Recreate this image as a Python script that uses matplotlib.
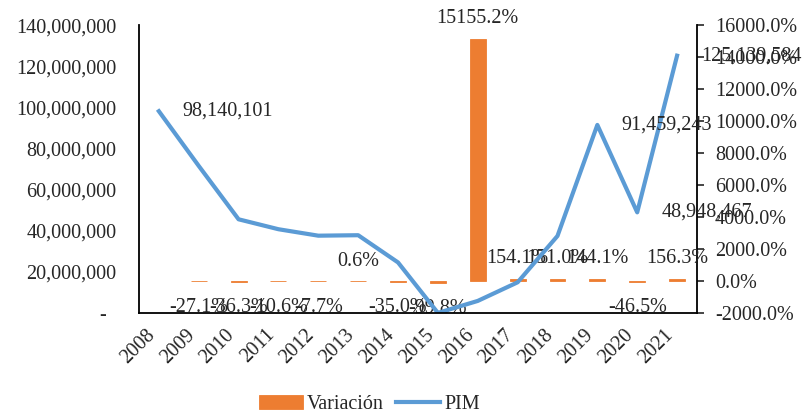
import numpy as np
import matplotlib.pyplot as plt
from matplotlib.ticker import FuncFormatter

plt.rcParams['font.family'] = ['Liberation Serif', 'DejaVu Serif']
plt.rcParams['text.color'] = '#262626'
plt.rcParams['xtick.color'] = '#262626'
plt.rcParams['ytick.color'] = '#262626'

# datos
years = ['2008', '2009', '2010', '2011', '2012', '2013', '2014',
         '2015', '2016', '2017', '2018', '2019', '2020', '2021']
pim = [98140101, 71544134, 45570000, 40740000, 37600000, 37830000, 24590000,
       38500, 5875000, 14930000, 37470000, 91459243, 48948467, 125139584]
variacion = [np.nan, -27.1, -36.3, -10.6, -7.7, 0.6, -35.0,
             -99.8, 15155.2, 154.1, 151.0, 144.1, -46.5, 156.3]
pim_con_etiqueta = ['2008', '2019', '2020', '2021']

orange = '#ED7D31'
blue = '#5B9BD5'
fs = 14.5

fig = plt.figure(figsize=(8.03, 4.16), dpi=100)
ax = fig.add_axes([0.173, 0.2476, 0.695, 0.692])
ax2 = ax.twinx()

x = np.arange(len(years))

# barras de variacion en el eje derecho
bars = ax2.bar(x, variacion, width=0.4, color=orange, edgecolor=orange,
               linewidth=0.6, label='Variación')
# linea PIM en el eje izquierdo
line, = ax.plot(x, pim, color=blue, lw=3, label='PIM')

# la linea va por encima de las barras
ax.set_zorder(ax2.get_zorder() + 1)
ax.patch.set_visible(False)

ax.set_xlim(-0.5, len(years) - 0.5)
ax.set_ylim(0, 140e6)
ax2.set_ylim(-2000, 16000)

ax.set_yticks(np.arange(0, 140e6 + 1, 20e6))
ax.yaxis.set_major_formatter(FuncFormatter(lambda v, p: '-  ' if v == 0 else f'{v:,.0f}'))
ax2.set_yticks(np.arange(-2000, 16001, 2000))
ax2.yaxis.set_major_formatter(FuncFormatter(lambda v, p: f'{v:.1f}%'))

ax.set_xticks(x)
ax.set_xticklabels(years, rotation=45, ha='right', fontsize=fs)
ax.tick_params(axis='x', length=0, pad=9)
ax.tick_params(axis='y', length=0, pad=16, labelsize=fs)
ax2.tick_params(axis='y', length=5, width=1.2, direction='out', pad=8, labelsize=fs)

for s in ['top', 'right']:
    ax.spines[s].set_visible(False)
for s in ['top', 'left', 'bottom']:
    ax2.spines[s].set_visible(False)
ax.spines['left'].set_linewidth(1.3)
ax.spines['bottom'].set_linewidth(1.3)
ax2.spines['right'].set_linewidth(1.3)

# etiquetas de la variacion
for i, v in enumerate(variacion):
    if np.isnan(v):
        continue
    dy = 20 if v >= 0 else -26
    ax2.annotate(f'{v:.1f}%', (x[i], v), xytext=(0, dy), textcoords='offset pixels',
                 ha='center', va='center', fontsize=fs)

# etiquetas del PIM
for i, yr in enumerate(years):
    if yr in pim_con_etiqueta:
        ax.annotate(f'{pim[i]:,.0f}', (x[i], pim[i]), xytext=(24, 0),
                    textcoords='offset pixels', ha='left', va='center', fontsize=fs)

fig.legend([bars, line], ['Variación', 'PIM'], loc='center',
           bbox_to_anchor=(0.46, 0.027), ncol=2, frameon=False, fontsize=fs,
           handlelength=2.2, handletextpad=0.2, columnspacing=0.6)

fig.savefig('out.png', dpi=100)
